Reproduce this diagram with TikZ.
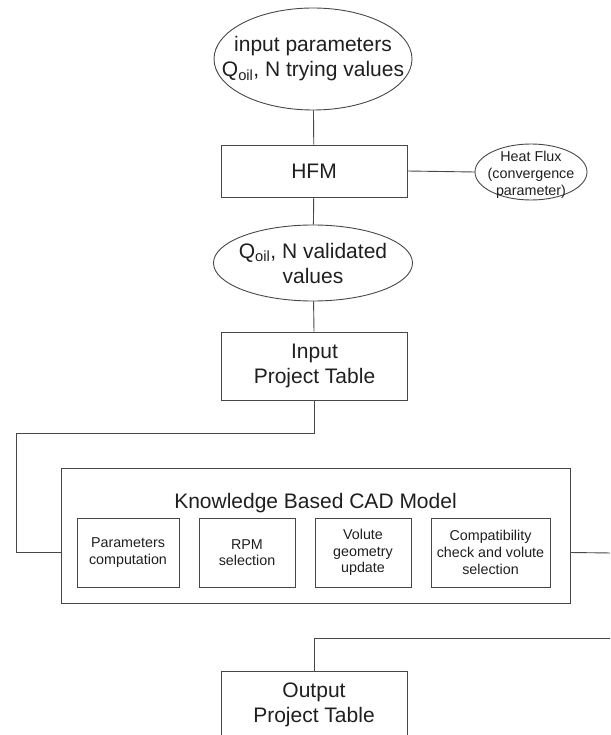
\documentclass[tikz,border=0pt]{standalone}
\usepackage{fontspec}
\setmainfont{Liberation Sans}
\usetikzlibrary{shapes.geometric}

\begin{document}
\begin{tikzpicture}[x=1pt,y=-1pt,
  line/.style={draw=black!72, line width=0.9pt},
  big/.style={font=\fontsize{21}{25}\selectfont, text=black!88, align=center},
  small/.style={font=\fontsize{14.3}{16.7}\selectfont, text=black!88, align=center},
  oval/.style={line, ellipse, inner sep=0pt},
  box/.style={line, rectangle, inner sep=0pt},
  bigbox/.style={box, big, minimum width=186pt},
  subbox/.style={box, small, minimum height=69pt}
]
\useasboundingbox (0,0) rectangle (610,735);
\clip (0,0) rectangle (610,735);

% upper chain: inputs, HFM solver and validated values
\node[oval, minimum width=198pt, minimum height=102pt] (inp) at (313,59) {};
\node[big] (inptxt) at (inp.center) {input parameters\\Q\textsubscript{oil}, N trying values};

\node[bigbox, minimum height=52pt] (hfm) at (314,171) {HFM};

\node[oval, minimum width=112pt, minimum height=56pt] (hf) at (531,172) {};
\node[small] (hftxt) at ([yshift=-3pt]hf.center) {Heat Flux\\(convergence\\parameter)};

\node[oval, minimum width=199pt, minimum height=76pt] (val) at (313,263) {};
\node[big] (valtxt) at (val.center) {Q\textsubscript{oil}, N validated\\values};

\node[bigbox, minimum height=68pt] (intab) at (314.5,366) {Input\\Project Table};

% knowledge based CAD model with its four steps
\node[box, minimum width=509pt, minimum height=135pt] (kb) at (315.5,535.5) {};
\node[big, anchor=base] (kbtitle) at (315.5,508) {Knowledge Based CAD Model};

\node[subbox, minimum width=102pt] (s1) at (128,552.5) {Parameters\\computation};
\node[subbox, minimum width=96pt] (s2) at (247,552.5) {RPM\\selection};
\node[subbox, minimum width=96pt] (s3) at (363,552.5) {Volute\\geometry\\update};
\node[subbox, minimum width=119pt] (s4) at (490.5,552.5) {Compatibility\\check and volute\\selection};

\node[bigbox, minimum height=68pt] (outtab) at (314,705) {Output\\Project Table};

% connectors
\coordinate (lbend) at (16,433);
\coordinate (rin) at (612,553);
\coordinate (rout) at (612,638);

\draw[line] (inp) -- (hfm);
\draw[line] (hfm.east) -- (hf.west);
\draw[line] (hfm) -- (val);
\draw[line] (val) -- (intab);
\draw[line] (intab.south) -- (intab.south |- lbend) -- (lbend) |- (kb.west |- s1.west);
\draw[line] (kb.east |- s4.east) -- (rin);
\draw[line] (rout) -| (outtab.north);
\end{tikzpicture}
\end{document}
